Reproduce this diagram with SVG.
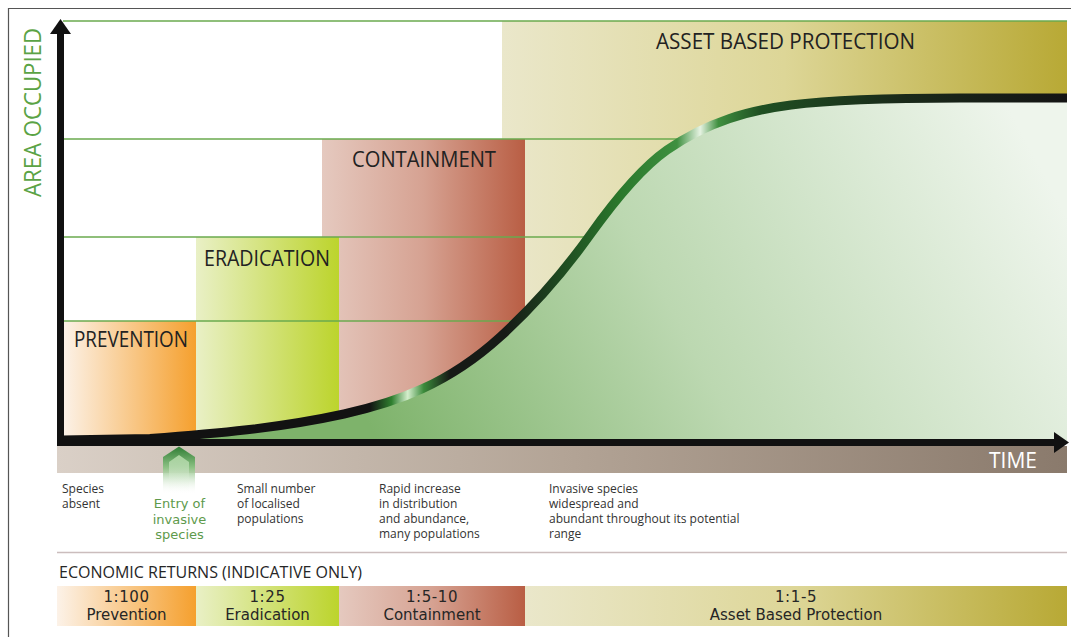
<svg xmlns="http://www.w3.org/2000/svg" width="1071" height="637" viewBox="0 0 1071 637">
<defs>
  <linearGradient id="gPrev" x1="0" y1="0" x2="1" y2="0">
    <stop offset="0" stop-color="#fcf2e8"/><stop offset="1" stop-color="#f5a02e"/>
  </linearGradient>
  <linearGradient id="gErad" x1="0" y1="0" x2="1" y2="0">
    <stop offset="0" stop-color="#e9f0c6"/><stop offset="1" stop-color="#bcd42c"/>
  </linearGradient>
  <linearGradient id="gCont" x1="0" y1="0" x2="1" y2="0">
    <stop offset="0" stop-color="#e5c9bf"/><stop offset="0.5" stop-color="#d6a292"/><stop offset="1" stop-color="#b95e44"/>
  </linearGradient>
  <linearGradient id="gAsset" x1="0" y1="0" x2="1" y2="0">
    <stop offset="0" stop-color="#eae7ca"/><stop offset="0.5" stop-color="#ddd697"/><stop offset="1" stop-color="#b8a935"/>
  </linearGradient>
  <linearGradient id="gBand" x1="0" y1="0" x2="1" y2="0">
    <stop offset="0" stop-color="#dad0c7"/><stop offset="0.5" stop-color="#b3a496"/><stop offset="1" stop-color="#8a7a6c"/>
  </linearGradient>
  <linearGradient id="gArea" gradientUnits="userSpaceOnUse" x1="380" y1="445" x2="1010" y2="110">
    <stop offset="0" stop-color="#7eb36b"/><stop offset="0.45" stop-color="#bcd8b1"/><stop offset="1" stop-color="#eef5ec"/>
  </linearGradient>
  <linearGradient id="gCurve" gradientUnits="userSpaceOnUse" x1="62" y1="0" x2="1067" y2="0">
    <stop offset="0" stop-color="#121212"/>
    <stop offset="0.306" stop-color="#121212"/>
    <stop offset="0.328" stop-color="#2f7f2f"/>
    <stop offset="0.344" stop-color="#d4eecc"/>
    <stop offset="0.360" stop-color="#3a8a3a"/>
    <stop offset="0.386" stop-color="#161a16"/>
    <stop offset="0.441" stop-color="#161a16"/>
    <stop offset="0.496" stop-color="#1e4a20"/>
    <stop offset="0.555" stop-color="#2a782c"/>
    <stop offset="0.612" stop-color="#3f9040"/>
    <stop offset="0.635" stop-color="#e6f3e2"/>
    <stop offset="0.653" stop-color="#3f8f3f"/>
    <stop offset="0.695" stop-color="#1f4f22"/>
    <stop offset="0.834" stop-color="#1a2a1a"/>
    <stop offset="1" stop-color="#141414"/>
  </linearGradient>
  <linearGradient id="gEntry" x1="0" y1="0" x2="0" y2="1">
    <stop offset="0" stop-color="#2f7d34"/><stop offset="0.45" stop-color="#8fc386"/><stop offset="1" stop-color="#ffffff" stop-opacity="0"/>
  </linearGradient>
  <linearGradient id="gEntryIn" x1="0" y1="0" x2="0" y2="1">
    <stop offset="0" stop-color="#a9d49e"/><stop offset="1" stop-color="#ffffff" stop-opacity="0"/>
  </linearGradient>
  <style>
    .grid{stroke:#6aaa4e;stroke-width:1.5;fill:none}
    .zone{font-family:"Open Sans","DejaVu Sans",sans-serif;font-size:21px;fill:#222}
    .desc{font-family:"Open Sans","DejaVu Sans",sans-serif;font-size:12px;fill:#333}
    .entry{font-family:"DejaVu Sans",sans-serif;font-size:13px;fill:#5e9a4c;text-anchor:middle}
    .eco{font-family:"DejaVu Sans",sans-serif;font-size:15px;fill:#262626;text-anchor:middle}
    .ratio{letter-spacing:0.6px}
    .axis{stroke:#111;stroke-width:7;fill:none}
  </style>
</defs>
<rect width="1071" height="637" fill="#fff"/>
<path d="M8.5,637 V8.5 H1071" fill="none" stroke="#555" stroke-width="1.2"/>

<g id="zones">
  <g id="asset"><rect x="502" y="21" width="565" height="419" fill="url(#gAsset)"/></g>
  <g id="containment"><rect x="322" y="139" width="203" height="301" fill="url(#gCont)"/></g>
  <g id="eradication"><rect x="196" y="237" width="143" height="203" fill="url(#gErad)"/></g>
  <g id="prevention"><rect x="63" y="321" width="133" height="119" fill="url(#gPrev)"/></g>
</g>

<g id="grid">
  <line class="grid" x1="63" y1="21" x2="1067" y2="21"/>
  <line class="grid" x1="63" y1="139" x2="1067" y2="139"/>
  <line class="grid" x1="63" y1="237" x2="1067" y2="237"/>
  <line class="grid" x1="63" y1="321" x2="1067" y2="321"/>
</g>

<g id="zone-labels">
  <text class="zone" x="74" y="347" textLength="114" lengthAdjust="spacingAndGlyphs">PREVENTION</text>
  <text class="zone" x="204" y="266" textLength="126" lengthAdjust="spacingAndGlyphs">ERADICATION</text>
  <text class="zone" x="352" y="167" textLength="144" lengthAdjust="spacingAndGlyphs">CONTAINMENT</text>
  <text class="zone" x="656" y="49" textLength="259" lengthAdjust="spacingAndGlyphs">ASSET BASED PROTECTION</text>
</g>

<g id="area">
  <path d="M150,439 C214.7,433.8 279.3,428.2 344,414 C396,402.6 448,384.3 500,337 C530,309.7 560,277 590,235 C615.7,199 641.3,168 667,150 C708.3,121.1 749.7,110.4 791,105 C830,100 890,98 960,98 L1067,98 L1067,441 L150,441 Z" fill="url(#gArea)"/>
</g>

<g id="band">
  <rect x="57" y="446" width="1010" height="27" fill="url(#gBand)"/>
  <text x="989" y="468" font-family="Open Sans, DejaVu Sans, sans-serif" font-size="21" fill="#fff" textLength="48" lengthAdjust="spacingAndGlyphs">TIME</text>
</g>

<g id="connectors">
  <path id="curve" d="M62,440 L150,438.6 C214.7,433.8 279.3,428.2 344,414 C396,402.6 448,384.3 500,337 C530,309.7 560,277 590,235 C615.7,199 641.3,168 667,150 C708.3,121.1 749.7,110.4 791,105 C830,100 890,98 960,98 L1067,98" fill="none" stroke="url(#gCurve)" stroke-width="9" stroke-linejoin="round"/>
  <line class="axis" x1="60.5" y1="32" x2="60.5" y2="446"/>
  <polygon points="50,34 60.5,19 71,34" fill="#111"/>
  <line class="axis" x1="57" y1="442.5" x2="1056" y2="442.5"/>
  <polygon points="1054,432 1069,442.5 1054,453" fill="#111"/>
  <g id="entry-arrow">
    <polygon points="163,457 179,446.5 195,457 195,494 163,494" fill="url(#gEntry)"/>
    <polygon points="169,462 179,455 189,462 189,494 169,494" fill="url(#gEntryIn)"/>
  </g>
</g>

<text transform="translate(41,197) rotate(-90)" font-family="Open Sans, DejaVu Sans, sans-serif" font-size="23" fill="#5ba345" textLength="169" lengthAdjust="spacingAndGlyphs">AREA OCCUPIED</text>

<g id="descriptions">
  <text class="desc" x="62" y="492.5">Species<tspan x="62" y="507.5">absent</tspan></text>
  <text class="entry" x="179.5" y="508">Entry of<tspan x="179.5" y="523.5">invasive</tspan><tspan x="179.5" y="539">species</tspan></text>
  <text class="desc" x="237" y="492.5">Small number<tspan x="237" y="507.5">of localised</tspan><tspan x="237" y="522.5">populations</tspan></text>
  <text class="desc" x="379" y="492.5">Rapid increase<tspan x="379" y="507.5">in distribution</tspan><tspan x="379" y="522.5">and abundance,</tspan><tspan x="379" y="537.5">many populations</tspan></text>
  <text class="desc" x="549" y="492.5">Invasive species<tspan x="549" y="507.5">widespread and</tspan><tspan x="549" y="522.5">abundant throughout its potential</tspan><tspan x="549" y="537.5">range</tspan></text>
</g>

<line x1="57" y1="552.5" x2="1067" y2="552.5" stroke="#cbbdbd" stroke-width="1.5"/>

<g id="economic">
  <text x="59" y="578" font-family="Open Sans, DejaVu Sans, sans-serif" font-size="16" fill="#262626">ECONOMIC RETURNS (INDICATIVE ONLY)</text>
  <g id="eco-prevention">
    <rect x="57" y="586" width="139" height="40" fill="url(#gPrev)"/>
    <text class="eco" x="126.5" y="602"><tspan class="ratio">1:100</tspan><tspan x="126.5" y="620">Prevention</tspan></text>
  </g>
  <g id="eco-eradication">
    <rect x="196" y="586" width="143" height="40" fill="url(#gErad)"/>
    <text class="eco" x="267.5" y="602"><tspan class="ratio">1:25</tspan><tspan x="267.5" y="620">Eradication</tspan></text>
  </g>
  <g id="eco-containment">
    <rect x="339" y="586" width="186" height="40" fill="url(#gCont)"/>
    <text class="eco" x="432" y="602"><tspan class="ratio">1:5-10</tspan><tspan x="432" y="620">Containment</tspan></text>
  </g>
  <g id="eco-asset">
    <rect x="525" y="586" width="542" height="40" fill="url(#gAsset)"/>
    <text class="eco" x="796" y="602"><tspan class="ratio">1:1-5</tspan><tspan x="796" y="620">Asset Based Protection</tspan></text>
  </g>
</g>
</svg>
